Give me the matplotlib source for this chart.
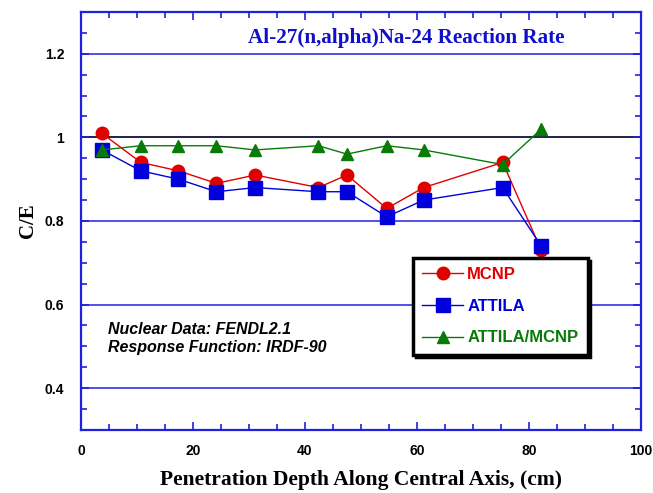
import matplotlib
matplotlib.use("Agg")
import matplotlib.pyplot as plt
from matplotlib.ticker import MultipleLocator

depth = [3.7, 10.7, 17.4, 24.2, 31.1, 42.4, 47.5, 54.6, 61.2, 75.3, 82.2]
depth_ratio = [3.7, 10.7, 17.4, 24.2, 31.1, 42.4, 47.5, 54.6, 61.2, 75.3, 82.2]
mcnp = [1.01, 0.94, 0.92, 0.89, 0.91, 0.88, 0.91, 0.83, 0.88, 0.94, 0.73]
attila = [0.97, 0.92, 0.90, 0.87, 0.88, 0.87, 0.87, 0.81, 0.85, 0.88, 0.74]
ratio = [0.97, 0.98, 0.98, 0.98, 0.97, 0.98, 0.96, 0.98, 0.97, 0.935, 1.02]
series_names = ["MCNP", "ATTILA", "ATTILA/MCNP"]
grid_levels = [0.4, 0.6, 0.8, 1.2]
unity = 1.0

RED = "#e00000"
BLUE = "#0000dd"
GREEN = "#087a08"
AXBLUE = "#2020e0"

fig = plt.figure(figsize=(6.53, 4.93), dpi=100)
ax = fig.add_axes([0.124, 0.1278, 0.8576, 0.8479])
ax.set_xlim(0, 100)
ax.set_ylim(0.3, 1.3)

for g in grid_levels:
    ax.axhline(g, color=AXBLUE, lw=1.1, zorder=1)
ax.axhline(unity, color="#10103a", lw=1.3, zorder=1)

l1, = ax.plot(depth, mcnp, color=RED, lw=1, marker="o", ms=9, mec=RED, mfc=RED, zorder=3, label=series_names[0])
l2, = ax.plot(depth, attila, color=BLUE, lw=1, marker="s", ms=10, mec=BLUE, mfc=BLUE, zorder=4, label=series_names[1])
l3, = ax.plot(depth_ratio, ratio, color=GREEN, lw=1, marker="^", ms=8.5, mec=GREEN, mfc=GREEN, zorder=5, label=series_names[2])

for s in ax.spines.values():
    s.set_color(AXBLUE)
    s.set_linewidth(1.6)

ax.xaxis.set_major_locator(MultipleLocator(20))
ax.xaxis.set_minor_locator(MultipleLocator(5))
ax.yaxis.set_major_locator(MultipleLocator(0.2))
ax.yaxis.set_minor_locator(MultipleLocator(0.05))
ax.tick_params(which="both", direction="in", top=True, right=True, color=AXBLUE, width=1.2)
ax.tick_params(which="major", length=6)
ax.tick_params(which="minor", length=4)
ax.tick_params(axis="x", which="major", pad=10)
ax.tick_params(axis="y", which="major", pad=12)
ax.set_xticks([0, 20, 40, 60, 80, 100])
ax.set_xticklabels(["0", "20", "40", "60", "80", "100"])
ax.set_yticks([0.4, 0.6, 0.8, 1.0, 1.2])
ax.set_yticklabels(["0.4", "0.6", "0.8", "1", "1.2"])
for lab in ax.get_xticklabels() + ax.get_yticklabels():
    lab.set_fontfamily("Liberation Sans")
    lab.set_fontweight("bold")
    lab.set_fontsize(10)
    lab.set_color("black")

ax.set_xlabel("Penetration Depth Along Central Axis, (cm)", family="Liberation Serif",
              fontweight="bold", fontsize=15.5, labelpad=9)
ax.set_ylabel("C/E", family="Liberation Serif", fontweight="bold", fontsize=15, labelpad=5)

ax.text(0.58, 0.938, "Al-27(n,alpha)Na-24 Reaction Rate", transform=ax.transAxes,
        ha="center", va="center", family="Liberation Serif", fontweight="bold",
        fontsize=15.2, color="#1010c8")

ax.text(0.048, 0.219, "Nuclear Data: FENDL2.1\nResponse Function: IRDF-90", transform=ax.transAxes,
        ha="left", va="center", family="Liberation Sans", fontweight="bold", style="italic",
        fontsize=11.5, linespacing=1.2)

leg = ax.legend(handles=[l1, l2, l3], loc="upper left", bbox_to_anchor=(0.593, 0.4115),
                prop={"family": "Liberation Sans", "weight": "bold", "size": 12},
                frameon=True, fancybox=False, numpoints=1, handlelength=2.45,
                handletextpad=0.25, labelspacing=1.0, borderpad=0.55, borderaxespad=0,
                shadow={"color": "black", "alpha": 1, "ox": 2, "oy": -2})
leg.get_frame().set_edgecolor("black")
leg.get_frame().set_linewidth(2.5)
leg.set_zorder(10)
for t, c in zip(leg.get_texts(), [RED, BLUE, GREEN]):
    t.set_color(c)

fig.savefig("out.png", dpi=100)
